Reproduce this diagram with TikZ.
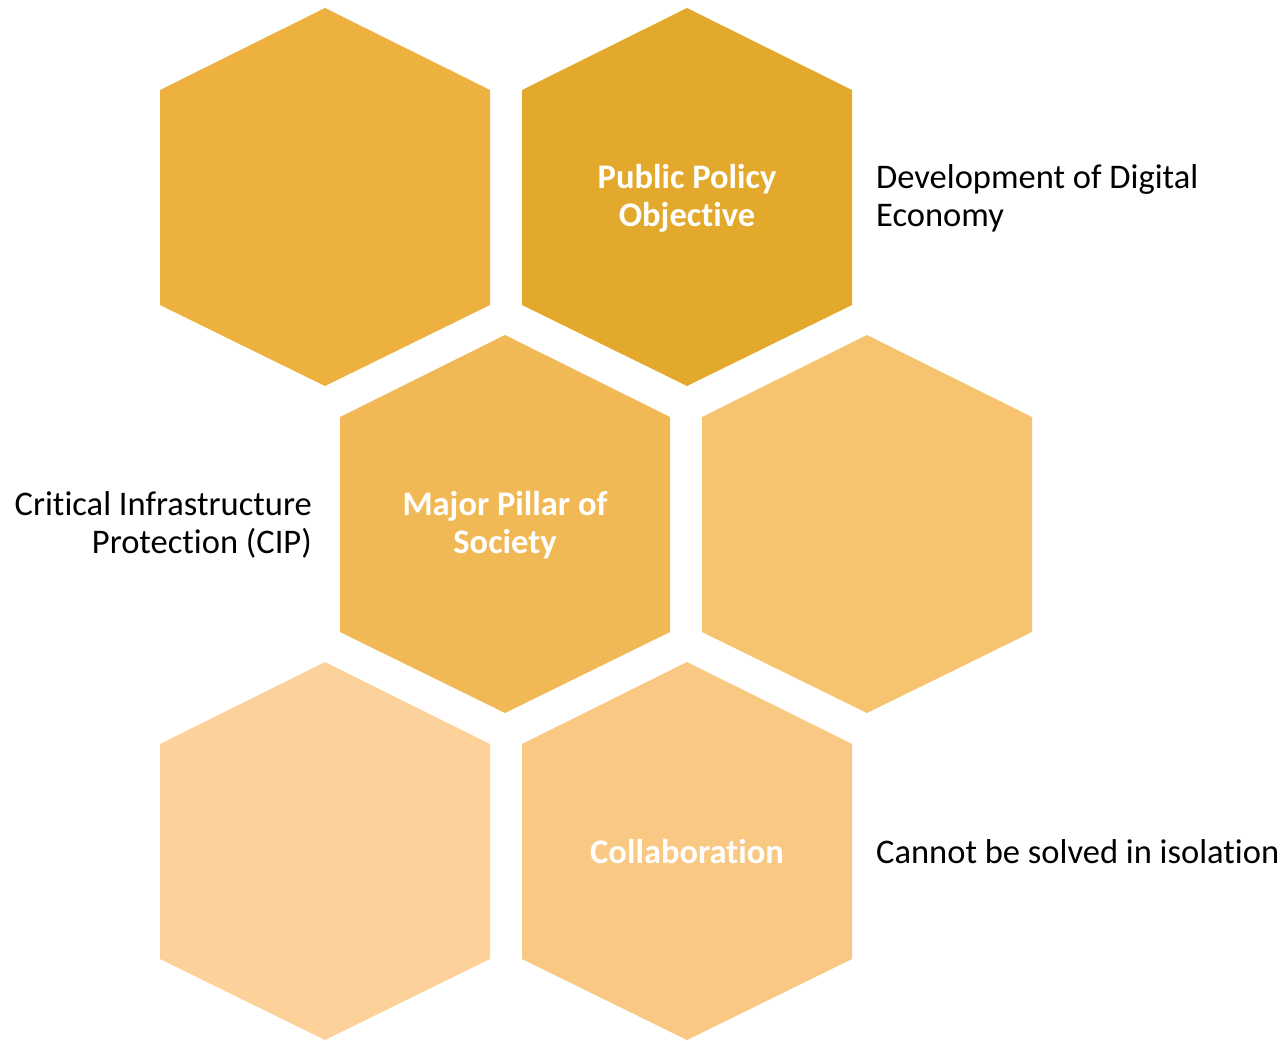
\documentclass[tikz,border=0pt]{standalone}
\usepackage{fontspec}
\setmainfont{Carlito}[Ligatures={NoCommon}]
\definecolor{hA}{HTML}{ECB13F}
\definecolor{hB}{HTML}{E3A92C}
\definecolor{hC}{HTML}{F1B955}
\definecolor{hD}{HTML}{F6C36E}
\definecolor{hE}{HTML}{FDD29A}
\definecolor{hF}{HTML}{F9C882}
\tikzset{
  hexlabel/.style={text=white,font=\fontsize{34.5}{38}\selectfont\bfseries,align=center,inner sep=0pt},
  sidelabel/.style={text=black,font=\fontsize{34.5}{38}\selectfont,inner sep=0pt}
}
\usetikzlibrary{calc}
\newcommand{\hexat}[2]{%
  \fill[#2] ($(#1)+(0,189)$) -- ($(#1)+(165,107)$) -- ($(#1)+(165,-108)$) -- ($(#1)+(0,-189)$) -- ($(#1)+(-165,-108)$) -- ($(#1)+(-165,107)$) -- cycle;}
\begin{document}
\begin{tikzpicture}[x=1pt,y=1pt]
\useasboundingbox (0,0) rectangle (1285,-1041);
\coordinate (c1) at (325,-197);
\coordinate (c2) at (687,-197);
\coordinate (c3) at (505,-524);
\coordinate (c4) at (867,-524);
\coordinate (c5) at (325,-851);
\coordinate (c6) at (687,-851);
\hexat{c1}{hA}
\hexat{c2}{hB}
\hexat{c3}{hC}
\hexat{c4}{hD}
\hexat{c5}{hE}
\hexat{c6}{hF}
\node[hexlabel] (t2) at ($(c2)+(0,-1)$) {Public Policy\\Objective};
\node[hexlabel] (t3) at ($(c3)+(0,-1)$) {Major Pillar of\\Society};
\node[hexlabel] (t6) at ($(c6)+(0,-1)$) {Collaboration};
\node[sidelabel,anchor=west,align=left] (s2) at (876,-198) {Development of Digital\\Economy};
\node[sidelabel,anchor=east,align=right] (s3) at (312,-525) {Critical Infrastructure\\Protection (CIP)};
\node[sidelabel,anchor=west,align=left] (s6) at (876,-852) {Cannot be solved in isolation};
\end{tikzpicture}
\end{document}
